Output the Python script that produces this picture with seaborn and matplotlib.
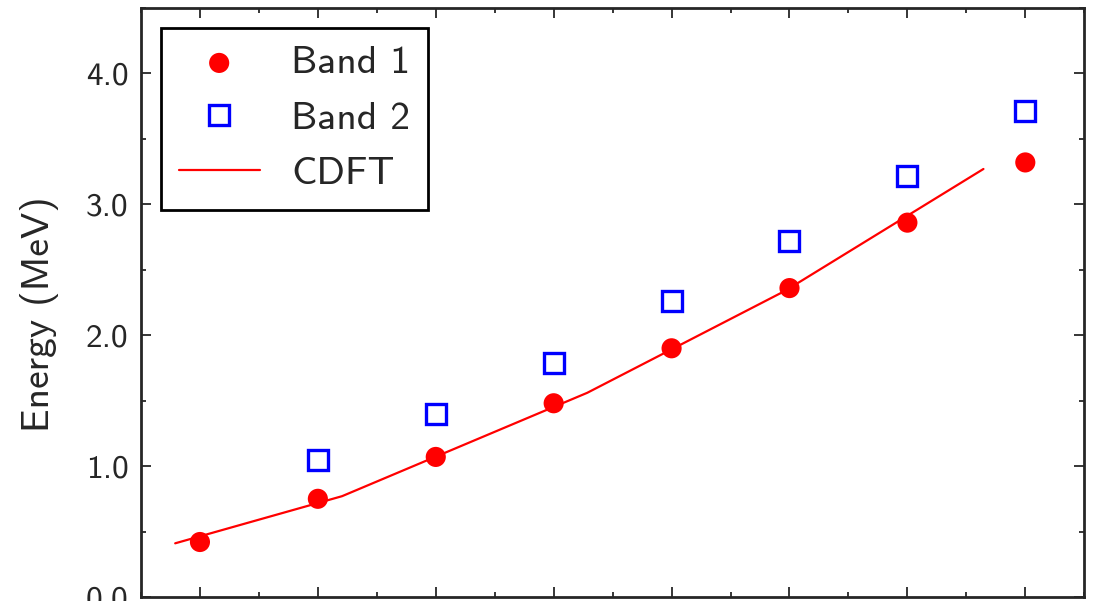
import numpy as np
import pandas as pd
import seaborn as sns
import matplotlib.pyplot as plt
from matplotlib.ticker import MultipleLocator

spin = [2, 4, 6, 8, 10, 12, 14, 16]
band1 = [0.42, 0.75, 1.07, 1.48, 1.90, 2.36, 2.86, 3.32]
spin2 = [4, 6, 8, 10, 12, 14, 16]
band2 = [1.05, 1.40, 1.79, 2.26, 2.72, 3.22, 3.71]
cdft_spin = [1.58, 4.41, 8.57, 11.93, 15.29]
cdft_e = [0.41, 0.77, 1.56, 2.34, 3.27]

sns.set_style('ticks')
plt.rcParams['font.family'] = ['cmss10', 'DejaVu Sans']
plt.rcParams['axes.formatter.use_mathtext'] = True

b1 = pd.DataFrame({'I': spin, 'E': band1})
b2 = pd.DataFrame({'I': spin2, 'E': band2})
cd = pd.DataFrame({'I': cdft_spin, 'E': cdft_e})

fig = plt.figure(figsize=(10.93, 6.01), dpi=100)
ax = fig.add_axes([0.129, 0.0067, 0.863, 0.98])

sns.lineplot(x='I', y='E', data=cd, ax=ax, color='red', lw=1.6, label='CDFT', sort=False)
sns.scatterplot(x='I', y='E', data=b1, ax=ax, color='red', marker='o', s=210,
                edgecolor='none', label='Band 1')
ax.plot(b2['I'], b2['E'], ls='none', marker='s', ms=14, mfc='none', mec='blue',
        mew=2.4, label='Band 2')

ax.set(xlim=(1, 17), ylim=(0, 4.5), xlabel='')
ax.set_ylabel('Energy (MeV)', fontsize=28.5)
ax.yaxis.set_label_coords(-0.087, 0.48)
ax.xaxis.set_major_locator(MultipleLocator(2))
ax.xaxis.set_minor_locator(MultipleLocator(1))
ax.yaxis.set_major_locator(MultipleLocator(1))
ax.yaxis.set_minor_locator(MultipleLocator(0.5))
ax.yaxis.set_major_formatter(plt.FormatStrFormatter('%.1f'))
ax.tick_params(which='both', direction='in', top=True, right=True, width=1.3, labelsize=24)
ax.tick_params(which='major', length=7, pad=9)
ax.tick_params(which='minor', length=3.5)
ax.tick_params(axis='x', labelbottom=False)
for s in ax.spines.values():
    s.set_linewidth(2)

h, l = ax.get_legend_handles_labels()
order = [l.index('Band 1'), l.index('Band 2'), l.index('CDFT')]
leg = ax.legend([h[i] for i in order], [l[i] for i in order], loc='upper left',
                fontsize=28.5, frameon=True, fancybox=False, edgecolor='black',
                handlelength=2.05, handletextpad=0.8, borderpad=0.45, labelspacing=0.5,
                borderaxespad=0.5)
leg.get_frame().set_linewidth(2)
leg.get_frame().set_alpha(1)

plt.savefig('out.png', dpi=100)
